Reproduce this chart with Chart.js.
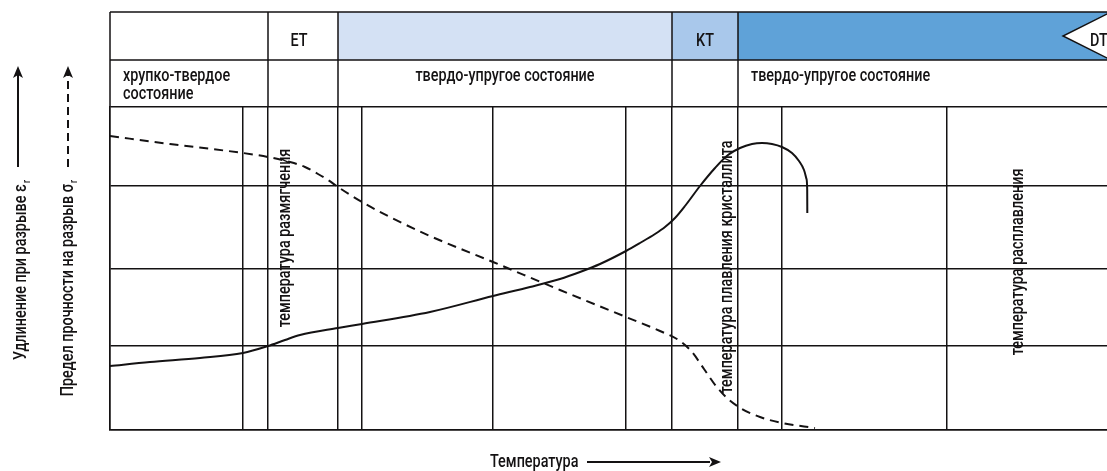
<!DOCTYPE html>
<html><head><meta charset="utf-8">
<script src="https://cdn.jsdelivr.net/npm/chart.js@4.4.1/dist/chart.umd.min.js"></script>
<style>html,body{margin:0;padding:0;background:#fff;}#wrap{width:1107px;height:471px;position:relative;}</style>
</head><body><div id="wrap"><canvas id="c"></canvas></div>
<script>
// ---- data ----
const tempMax = 997;
const levelMax = 323;
const gridTemps = [0, 133, 158, 228, 252, 383, 516, 562, 628, 672, 837];
const gridLevels = [0, 84, 161, 244, 323];
const zoneBounds = [0, 158, 228, 562, 628];
const zoneCodes = ['', 'ET', '', 'KT', 'DT'];
const zoneStates = [['хрупко-твердое', 'состояние'], [], ['твердо-упругое состояние'], [], ['твердо-упругое состояние']];
const transitionLabels = ['температура размягчения', 'температура плавления кристаллита', 'температура расплавления'];
const transitionLabelT = [175, 617, 908];
const transitionLabelLevel = [192, 163, 168];
const axisLabelElong = 'Удлинение при разрыве ε';
const axisLabelStrength = 'Предел прочности на разрыв σ';
const axisLabelTemp = 'Температура';
const elongT = [0, 40, 90, 133, 158, 175, 190, 228, 252, 320, 383, 420, 450, 470, 490, 516, 530, 545, 555, 565, 575, 590, 605, 618, 630, 642, 652, 662, 672, 682, 689, 694, 696.5, 697.2, 697.3];
const elongV = [64, 68, 72, 77, 84, 90, 95, 102, 106, 118, 134, 143, 151, 158, 166, 179, 187, 196, 203, 212, 224, 244, 262, 275, 282, 286, 287, 286, 283, 277, 269, 260, 251, 240, 217];
const strengthT = [0, 60, 133, 158, 180, 195, 208, 218, 228, 252, 280, 320, 383, 450, 516, 550, 570, 582, 594, 606, 618, 632, 650, 672, 705];
const strengthV = [294, 286, 277, 273, 268, 263, 256, 250, 243, 228, 213, 194, 168, 140, 113, 99, 89, 78, 61, 44, 31, 21, 13, 7, 2];

// ---- styles ----
const INK = '#141213';
const FONT = 'Roboto,"Noto Sans",sans-serif';
const FW = '500 ';
const FS = 18;
const SX = 0.8;
const zoneFills = ['#ffffff', '#ffffff', '#d4e1f4', '#a9c8eb', '#5fa2d8'];

function txt(ctx, s, x, y, align) {
  ctx.save(); ctx.translate(x, y); ctx.scale(SX, 1);
  ctx.textAlign = align; ctx.fillText(s, 0, 0); ctx.restore();
}
function rotText(ctx, text, x, y, align) {
  ctx.save(); ctx.translate(x, y); ctx.rotate(-Math.PI / 2); ctx.scale(SX, 1);
  ctx.textAlign = align; ctx.textBaseline = 'middle'; ctx.fillText(text, 0, 0); ctx.restore();
}
function subLabel(ctx, main, sub, cx, yEnd) {
  ctx.save();
  const fsSub = Math.round(FS * 0.6);
  ctx.font = FW + FS + 'px ' + FONT;
  const wm = ctx.measureText(main).width * SX;
  ctx.font = FW + fsSub + 'px ' + FONT;
  const ws = ctx.measureText(sub).width * SX;
  const yStart = yEnd + wm + ws + 1;
  ctx.translate(cx, yStart); ctx.rotate(-Math.PI / 2);
  ctx.textBaseline = 'middle'; ctx.textAlign = 'left';
  ctx.save(); ctx.scale(SX, 1); ctx.font = FW + FS + 'px ' + FONT; ctx.fillText(main, 0, 0); ctx.restore();
  ctx.save(); ctx.translate(wm + 1, 6); ctx.scale(SX, 1); ctx.font = FW + fsSub + 'px ' + FONT; ctx.fillText(sub, 0, 0); ctx.restore();
  ctx.restore();
}
function arrowUp(ctx, x, yTip, yBase, dashed) {
  ctx.save(); ctx.strokeStyle = INK; ctx.fillStyle = INK; ctx.lineWidth = 2;
  if (dashed) ctx.setLineDash([8, 5]);
  ctx.beginPath(); ctx.moveTo(x, yBase); ctx.lineTo(x, yTip + 8); ctx.stroke();
  ctx.setLineDash([]);
  ctx.beginPath(); ctx.moveTo(x, yTip); ctx.lineTo(x - 5, yTip + 12); ctx.lineTo(x, yTip + 9); ctx.lineTo(x + 5, yTip + 12); ctx.closePath(); ctx.fill();
  ctx.restore();
}

const decor = {
  id: 'decor',
  afterDraw(chart) {
    const { ctx, chartArea: ca, scales: { x, y } } = chart;
    const top = ca.top - 95, mid = ca.top - 47, bot = ca.top;
    const bx = zoneBounds.map(v => x.getPixelForValue(v)).concat([ca.right + 2]);
    ctx.save();
    for (let i = 0; i < zoneBounds.length; i++) {
      ctx.fillStyle = zoneFills[i];
      ctx.fillRect(bx[i], top, bx[i + 1] - bx[i], mid - top);
    }
    // DT tag
    ctx.fillStyle = '#fff'; ctx.strokeStyle = INK; ctx.lineWidth = 1.5;
    ctx.beginPath(); ctx.moveTo(ca.right + 2, top + 1); ctx.lineTo(ca.right - 44, (top + mid) / 2); ctx.lineTo(ca.right + 2, mid - 1); ctx.closePath(); ctx.fill(); ctx.stroke();
    // borders
    ctx.strokeStyle = INK; ctx.lineWidth = 1.5;
    ctx.beginPath();
    ctx.moveTo(bx[0], top); ctx.lineTo(ca.right + 2, top);
    ctx.moveTo(bx[0], mid); ctx.lineTo(ca.right + 2, mid);
    for (let i = 0; i < zoneBounds.length; i++) { ctx.moveTo(bx[i], top); ctx.lineTo(bx[i], bot); }
    ctx.stroke();
    // header texts
    ctx.fillStyle = INK; ctx.font = FW + FS + 'px ' + FONT; ctx.textBaseline = 'alphabetic';
    for (let i = 0; i < zoneBounds.length; i++) {
      if (zoneCodes[i]) {
        if (i === zoneBounds.length - 1) txt(ctx, zoneCodes[i], ca.right - 17, top + 34, 'left');
        else txt(ctx, zoneCodes[i], (bx[i] + bx[i + 1]) / 2 - (i === 1 ? 4 : 0), top + 34, 'center');
      }
      zoneStates[i].forEach((t, k) => {
        if (i === 2) txt(ctx, t, (bx[i] + bx[i + 1]) / 2, mid + 21 + k * 18, 'center');
        else txt(ctx, t, bx[i] + 13, mid + 21 + k * 18, 'left');
      });
    }
    // transition labels
    transitionLabels.forEach((t, i) => rotText(ctx, t, x.getPixelForValue(transitionLabelT[i]), y.getPixelForValue(transitionLabelLevel[i]), 'center'));
    // axis labels
    subLabel(ctx, axisLabelElong, 'r', ca.left - 89, 180);
    subLabel(ctx, axisLabelStrength, 'r', ca.left - 42, 180);
    arrowUp(ctx, ca.left - 92, 66, 167, false);
    arrowUp(ctx, ca.left - 42, 66, 167, true);
    ctx.font = FW + FS + 'px ' + FONT; ctx.textBaseline = 'alphabetic';
    txt(ctx, axisLabelTemp, 490, ca.bottom + 37, 'left');
    ctx.lineWidth = 2; ctx.beginPath(); ctx.moveTo(587, ca.bottom + 32); ctx.lineTo(710, ca.bottom + 32); ctx.stroke();
    ctx.beginPath(); ctx.moveTo(721, ca.bottom + 32); ctx.lineTo(709, ca.bottom + 27); ctx.lineTo(712, ca.bottom + 32); ctx.lineTo(709, ca.bottom + 37); ctx.closePath(); ctx.fill();
    ctx.restore();
  }
};

const pts = (xs, ys) => xs.map((v, i) => ({ x: v, y: ys[i] }));
new Chart(document.getElementById('c'), {
  type: 'line',
  data: {
    datasets: [
      { label: 'Удлинение при разрыве', data: pts(elongT, elongV), borderColor: INK, borderWidth: 2, pointRadius: 0, cubicInterpolationMode: 'monotone', fill: false },
      { label: 'Предел прочности на разрыв', data: pts(strengthT, strengthV), borderColor: INK, borderWidth: 2, borderDash: [9, 6], pointRadius: 0, cubicInterpolationMode: 'monotone', fill: false }
    ]
  },
  options: {
    responsive: true, maintainAspectRatio: false, animation: false,
    layout: { padding: { left: 110, top: 107, right: 0, bottom: 41 } },
    plugins: { legend: { display: false }, tooltip: { enabled: false } },
    scales: {
      x: { type: 'linear', min: 0, max: tempMax,
        afterBuildTicks: a => { a.ticks = gridTemps.map(v => ({ value: v })); },
        ticks: { display: false }, grid: { color: INK, lineWidth: 1.5, drawTicks: false }, border: { display: true, color: INK, width: 1.5 } },
      y: { type: 'linear', min: 0, max: levelMax,
        afterBuildTicks: a => { a.ticks = gridLevels.map(v => ({ value: v })); },
        ticks: { display: false }, grid: { color: INK, lineWidth: 1.5, drawTicks: false }, border: { display: true, color: INK, width: 1.5 } }
    }
  },
  plugins: [decor]
});
</script></body></html>
